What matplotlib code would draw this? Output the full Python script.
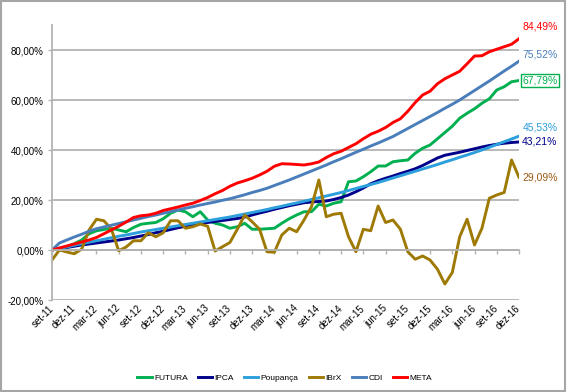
import matplotlib
matplotlib.use("Agg")
import matplotlib.pyplot as plt
from matplotlib.patches import Rectangle

plt.rcParams['font.family'] = ['Liberation Sans', 'DejaVu Sans']

# meses de set-11 a dez-16 (64 pontos), rótulos a cada 3 meses
tick_labels = ['set-11', 'dez-11', 'mar-12', 'jun-12', 'set-12', 'dez-12', 'mar-13', 'jun-13',
               'set-13', 'dez-13', 'mar-14', 'jun-14', 'set-14', 'dez-14', 'mar-15', 'jun-15',
               'set-15', 'dez-15', 'mar-16', 'jun-16', 'set-16', 'dez-16']

futura = [0, 0.7, 1.3, 2.5, 4.0, 6.5, 7.7, 8.2, 8.7, 8.0, 7.3, 9.0, 10.3, 10.7, 11.0, 12.5,
          14.7, 16.0, 15.3, 13.3, 15.3, 12.0, 10.7, 10.0, 8.7, 9.3, 10.7, 8.3, 8.3, 8.5, 8.7, 10.7,
          12.5, 14.0, 15.3, 15.3, 18.3, 17.6, 18.7, 19.3, 27.3, 27.6, 29.3, 31.3, 33.6, 33.6, 35.3, 35.7,
          36.0, 38.7, 40.7, 42.0, 44.5, 47.0, 49.5, 52.7, 54.7, 56.5, 58.7, 60.5, 64.0, 65.3, 67.3, 67.79]

ipca = [0, 0.5, 1.0, 1.5, 2.0, 2.4, 2.8, 3.2, 3.6, 4.0, 4.5, 5.0, 5.6, 6.2, 6.9, 7.5,
        8.2, 8.9, 9.5, 10.0, 10.6, 11.0, 11.4, 11.8, 12.2, 12.6, 13.2, 14.0, 14.8, 15.5, 16.3, 17.0,
        17.7, 18.3, 18.9, 19.2, 19.4, 19.6, 20.2, 21.0, 22.0, 23.3, 24.8, 26.5, 27.7, 28.7, 29.6, 30.6,
        31.5, 32.5, 33.8, 35.3, 36.8, 37.9, 38.5, 39.1, 39.8, 40.5, 41.2, 41.8, 42.3, 42.7, 43.0, 43.21]

poupanca = [0, 0.6, 1.2, 1.9, 2.5, 3.1, 3.7, 4.3, 4.9, 5.5, 6.0, 6.6, 7.2, 7.7, 8.2, 8.7,
            9.2, 9.7, 10.2, 10.7, 11.2, 11.7, 12.2, 12.7, 13.2, 13.8, 14.4, 15.0, 15.6, 16.2, 16.9, 17.5,
            18.2, 18.8, 19.5, 20.2, 20.9, 21.6, 22.3, 23.0, 23.8, 24.6, 25.4, 26.2, 27.0, 27.9, 28.8, 29.7,
            30.6, 31.5, 32.4, 33.3, 34.2, 35.2, 36.1, 37.1, 38.0, 39.0, 40.0, 41.1, 42.2, 43.3, 44.4, 45.53]

ibrx = [-4.0, 0.0, -0.8, -1.5, 0.3, 8.0, 12.3, 11.7, 8.4, -0.3, 1.2, 3.7, 3.7, 6.9, 5.3, 6.9,
        11.7, 11.7, 8.7, 9.3, 10.4, 9.5, -0.4, 1.3, 3.0, 8.3, 14.0, 11.3, 8.3, -0.7, -0.9, 6.0,
        8.7, 7.3, 12.0, 17.3, 28.0, 13.3, 14.3, 14.7, 5.3, -0.7, 8.3, 7.7, 17.6, 11.0, 12.0, 8.3,
        -0.7, -3.7, -2.4, -4.0, -7.7, -13.6, -9.0, 5.3, 12.3, 2.0, 8.7, 20.7, 22.0, 23.0, 36.0, 29.09]

cdi = [0, 2.8, 4.0, 5.2, 6.3, 7.5, 8.5, 9.2, 9.9, 10.6, 11.3, 12.0, 12.7, 13.4, 14.0, 14.7,
       15.4, 16.0, 16.7, 17.3, 18.0, 18.6, 19.2, 19.9, 20.5, 21.3, 22.1, 23.0, 23.8, 24.7, 25.8, 26.9,
       28.0, 29.2, 30.4, 31.6, 32.8, 34.0, 35.3, 36.5, 37.8, 39.1, 40.3, 41.6, 42.8, 44.1, 45.4, 47.0,
       48.6, 50.2, 51.8, 53.4, 55.0, 56.7, 58.3, 60.0, 61.9, 63.8, 65.7, 67.6, 69.6, 71.6, 73.5, 75.52]

meta = [0, 0.8, 1.6, 2.4, 3.2, 4.0, 5.0, 6.5, 8.0, 9.5, 11.2, 13.0, 13.7, 14.0, 14.7, 15.8,
        16.5, 17.2, 18.0, 18.7, 19.8, 21.0, 22.5, 23.8, 25.5, 26.8, 27.7, 28.7, 30.0, 31.5, 33.5, 34.5,
        34.4, 34.2, 34.0, 34.5, 35.2, 37.0, 38.5, 39.5, 41.0, 42.5, 44.5, 46.3, 47.5, 49.0, 51.0, 52.5,
        55.5, 59.0, 62.0, 63.5, 66.5, 68.5, 70.0, 71.5, 74.5, 77.6, 77.7, 79.3, 80.3, 81.3, 82.3, 84.49]

series = [
    ('FUTURA', futura, '#00b050', '#00b050'),
    ('IPCA', ipca, '#00008b', '#00008b'),
    ('Poupança', poupanca, '#2c9fdc', '#2c9fdc'),
    ('IBrX', ibrx, '#9e7a04', '#9c5a12'),
    ('CDI', cdi, '#4a7ebb', '#4a7ebb'),
    ('META', meta, '#ff0000', '#ff0000'),
]
label_dy = {'FUTURA': 0, 'IPCA': 0, 'Poupança': 6.5, 'IBrX': 0, 'CDI': 5, 'META': 9}

y_ticks = [-20, 0, 20, 40, 60, 80]
y_labels = ['-20,00%', '0,00%', '20,00%', '40,00%', '60,00%', '80,00%']

fig = plt.figure(figsize=(5.67, 3.92), dpi=100)
ax = fig.add_axes([52 / 567, 1 - 300 / 392, 467 / 567, 275 / 392])

grid_c = '#b3b3b3'
months = list(range(len(meta)))
for name, vals, color, lab_color in series:
    ax.plot(months, vals, color=color, lw=2.1, label=name)
    kw = {}
    if name == 'FUTURA':
        kw['bbox'] = dict(boxstyle='square,pad=0.15', fc='white', ec=color, lw=1)
    ax.annotate(f"{vals[-1]:.2f}%".replace('.', ','), xy=(months[-1], vals[-1]),
                xytext=(15, label_dy[name]), textcoords='offset points',
                ha='center', va='center', fontsize=7.5, color=lab_color, **kw)

ax.set_xlim(0, len(meta) - 1)
ax.set_ylim(-20, 90)
ax.set_yticks(y_ticks, y_labels)
ax.set_xticks(months[::3], tick_labels)

ax.grid(axis='y', color=grid_c, lw=1.3)
ax.set_axisbelow(True)
for s in ['top', 'right']:
    ax.spines[s].set_visible(False)
ax.spines['left'].set_color(grid_c)
ax.spines['left'].set_linewidth(1.3)
ax.spines['bottom'].set_position(('data', 0))
ax.spines['bottom'].set_color(grid_c)
ax.spines['bottom'].set_linewidth(1.3)
ax.tick_params(axis='y', length=3, color=grid_c, width=1, labelsize=7, pad=3)
ax.tick_params(axis='x', length=3, color=grid_c, width=1, labelsize=7, pad=38,
               labelrotation=45)
plt.setp(ax.get_xticklabels(), ha='right', va='center', rotation_mode='anchor')

fig.legend(loc='center', bbox_to_anchor=(0.502, 0.036), ncol=6, frameon=False,
           fontsize=6, handlelength=1.7, handletextpad=0.3, columnspacing=1.2)

fig.patches.append(Rectangle((0.001, 0.002), 0.996, 0.996, transform=fig.transFigure,
                             fill=False, ec='#a6a6a6', lw=1.5))

fig.savefig('out.png', dpi=100)
